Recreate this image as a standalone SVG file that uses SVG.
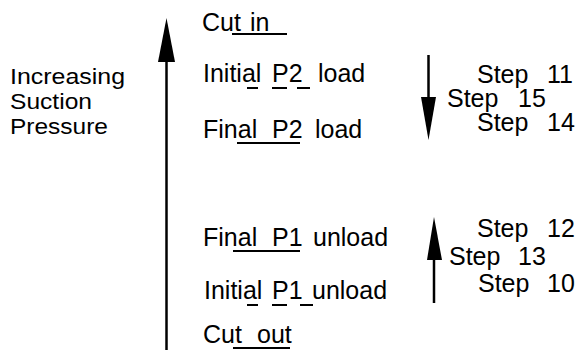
<svg xmlns="http://www.w3.org/2000/svg" width="575" height="354" viewBox="0 0 575 354">
<style>
text{font-family:"Liberation Sans",Arial,sans-serif;font-size:25px;fill:#000}
.lbl{font-size:22px}
.sh{stroke:#000;stroke-width:2.5;fill:none}
.ul{stroke:#000;stroke-width:2;fill:none}
.hd{fill:#000}
</style>
<rect width="575" height="354" fill="#fff"/>
<g id="axis-label">
<text class="lbl" x="10" y="84" textLength="115" lengthAdjust="spacingAndGlyphs">Increasing</text>
<text class="lbl" x="10" y="109" textLength="82" lengthAdjust="spacingAndGlyphs">Suction</text>
<text class="lbl" x="10" y="134" textLength="98" lengthAdjust="spacingAndGlyphs">Pressure</text>
</g>
<g id="connectors">
<line class="sh" x1="166.5" y1="55" x2="166.5" y2="350"/>
<polygon class="hd" points="166.5,18 158,62 175,62"/>
<line class="sh" x1="428.5" y1="55" x2="428.5" y2="100"/>
<polygon class="hd" points="421,97 436,97 428.5,140"/>
<line class="sh" x1="434" y1="255" x2="434" y2="303"/>
<polygon class="hd" points="434,217 427,260 442,260"/>
</g>
<g id="cut-in">
<text x="202" y="31">Cut<tspan x="250">in</tspan></text>
<line class="ul" x1="232" y1="34" x2="287" y2="34"/>
</g>
<g id="initial-p2-load">
<text x="203" y="82">Initial<tspan x="272">P2</tspan><tspan x="318">load</tspan></text>
<line class="ul" x1="247" y1="88" x2="258" y2="88"/>
<line class="ul" x1="272" y1="88" x2="287" y2="88"/>
<line class="ul" x1="297" y1="88" x2="310" y2="88"/>
</g>
<g id="final-p2-load">
<text x="203" y="138">Final<tspan x="272">P2</tspan><tspan x="315">load</tspan></text>
<line class="ul" x1="237" y1="143" x2="300" y2="143"/>
</g>
<g id="final-p1-unload">
<text x="203" y="246">Final<tspan x="272">P1</tspan><tspan x="313">unload</tspan></text>
<line class="ul" x1="233" y1="251" x2="300" y2="251"/>
</g>
<g id="initial-p1-unload">
<text x="204" y="299">Initial<tspan x="272">P1</tspan><tspan x="312">unload</tspan></text>
<line class="ul" x1="247" y1="305" x2="258" y2="305"/>
<line class="ul" x1="272" y1="305" x2="287" y2="305"/>
<line class="ul" x1="300" y1="305" x2="313" y2="305"/>
</g>
<g id="cut-out">
<text x="203" y="343">Cut<tspan x="257">out</tspan></text>
<line class="ul" x1="233" y1="348" x2="290" y2="348"/>
</g>
<g id="steps-load">
<text x="477" y="83">Step<tspan x="547">11</tspan></text>
<text x="447" y="107">Step<tspan x="518">15</tspan></text>
<text x="477" y="131">Step<tspan x="547">14</tspan></text>
</g>
<g id="steps-unload">
<text x="477" y="237">Step<tspan x="547">12</tspan></text>
<text x="449" y="265">Step<tspan x="518">13</tspan></text>
<text x="478" y="292">Step<tspan x="547">10</tspan></text>
</g>
</svg>
